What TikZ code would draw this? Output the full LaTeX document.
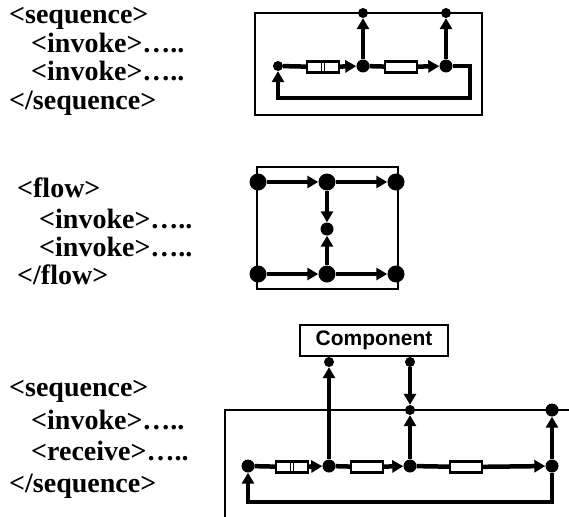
\documentclass[tikz,border=0pt]{standalone}
\usepackage{fontspec}
\setmainfont{Liberation Serif}
\newfontfamily\compfont{Liberation Sans}
\usetikzlibrary{arrows.meta}
\tikzset{
  codeline/.style={anchor=base west, inner sep=0pt, font=\fontsize{28}{30}\selectfont\bfseries},
  fatline/.style={line width=4.5pt},
  midline/.style={line width=4pt},
  arr/.style={-{Triangle[length=11pt,width=12pt]}},
  frameline/.style={draw, line width=1.6pt},
  dotS/.style={circle, fill, inner sep=0pt, minimum size=10pt},
  dotM/.style={circle, fill, inner sep=0pt, minimum size=13pt},
  dotL/.style={circle, fill, inner sep=0pt, minimum size=17pt},
  compbox/.style={draw, line width=2.2pt, fill=white, minimum width=32pt, minimum height=11pt, inner sep=0pt},
}
\newcommand{\divider}[1]{\draw[line width=1.3pt] ([xshift=-1.8pt]#1.north) -- ([xshift=-1.8pt]#1.south) ([xshift=1.3pt]#1.north) -- ([xshift=1.3pt]#1.south);}
\begin{document}
\begin{tikzpicture}[x=1pt,y=-1pt]
\useasboundingbox (0,0) rectangle (569,516);
\fill[white] (0,0) rectangle (569,516);

% ---------- text block 1
\node[codeline] (s1a) at (9,24) {<sequence>};
\node[codeline] (s1b) at (31,53) {<invoke>…..};
\node[codeline] (s1c) at (31,81) {<invoke>…..};
\node[codeline] (s1d) at (9,110) {</sequence>};

% ---------- text block 2
\node[codeline] (f1a) at (17,197) {<flow>};
\node[codeline] (f1b) at (39,228) {<invoke>…..};
\node[codeline] (f1c) at (39,256) {<invoke>…..};
\node[codeline] (f1d) at (17,284) {</flow>};

% ---------- text block 3
\node[codeline] (s3a) at (9,396) {<sequence>};
\node[codeline] (s3b) at (31,429) {<invoke>…..};
\node[codeline] (s3c) at (31,460) {<receive>…..};
\node[codeline] (s3d) at (9,492) {</sequence>};

% ---------- diagram 1
\draw[frameline] (255,13) rectangle (482,115);
\node[dotS] (a1) at (278,66) {};
\node[compbox] (c1) at (323,67) {};
\divider{c1}
\node[dotM] (j1) at (363,66) {};
\node[compbox] (c2) at (401,67) {};
\node[dotM] (j2) at (446,66) {};
\node[dotS] (t1) at (363,13) {};
\node[dotS] (t2) at (446,13) {};
\coordinate (r1) at (470,66);
\coordinate (r2) at (470,98);
\coordinate (l1) at (278,98);
\draw[fatline] (a1) -- (c1);
\draw[fatline,arr] (c1) -- (j1);
\draw[fatline] (j1) -- (c2);
\draw[fatline,arr] (c2) -- (j2);
\draw[fatline,arr] (j2) -- (r1) -- (r2) -- (l1) -- (a1);
\draw[fatline,arr] (j1) -- (t1);
\draw[fatline,arr] (j2) -- (t2);

% ---------- diagram 2
\draw[frameline] (257,167) rectangle (398,289);
\node[dotL] (tl) at (258,182) {};
\node[dotL] (tm) at (327,182) {};
\node[dotL] (tr) at (396,182) {};
\node[dotL] (bl) at (258,274) {};
\node[dotL] (bm) at (327,274) {};
\node[dotL] (br) at (396,274) {};
\node[dotM] (mm) at (327,229) {};
\draw[fatline,arr] (tl) -- (tm);
\draw[fatline,arr] (tm) -- (tr);
\draw[fatline,arr] (bl) -- (bm);
\draw[fatline,arr] (bm) -- (br);
\draw[midline,arr] (tm) -- (mm);
\draw[midline,arr] (bm) -- (mm);

% ---------- diagram 3
\draw[frameline] (225,530) -- (225,410) -- (580,410);
\node[draw, line width=1.4pt, inner sep=0pt, minimum width=148pt, minimum height=31pt,
      font=\compfont\bfseries\fontsize{21}{24}\selectfont] (comp) at (374,340.5) {Component};
\node[dotS] (ca) at (329,362) {};
\node[dotS] (cb) at (410,362) {};
\node[dotS] (fm) at (410,410) {};
\node[dotM] (fr) at (552,410) {};
\node[dotM] (la) at (248,466) {};
\node[compbox] (d1) at (292,467) {};
\divider{d1}
\node[dotM] (ja) at (329,466) {};
\node[compbox] (d2) at (367,467) {};
\node[dotM] (jb) at (410,466) {};
\node[compbox] (d3) at (466,467) {};
\node[dotM] (jc) at (552,466) {};
\coordinate (q1) at (552,502);
\coordinate (q2) at (248,502);
\draw[fatline] (la) -- (d1);
\draw[fatline,arr] (d1) -- (ja);
\draw[fatline] (ja) -- (d2);
\draw[fatline,arr] (d2) -- (jb);
\draw[fatline] (jb) -- (d3);
\draw[fatline,arr] (d3) -- (jc);
\draw[fatline,arr] (jc) -- (q1) -- (q2) -- (la);
\draw[fatline,arr] (ja) -- (ca);
\draw[fatline,arr] (cb) -- (fm);
\draw[fatline,arr] (jb) -- (fm);
\draw[fatline,arr] (jc) -- (fr);
\end{tikzpicture}
\end{document}
